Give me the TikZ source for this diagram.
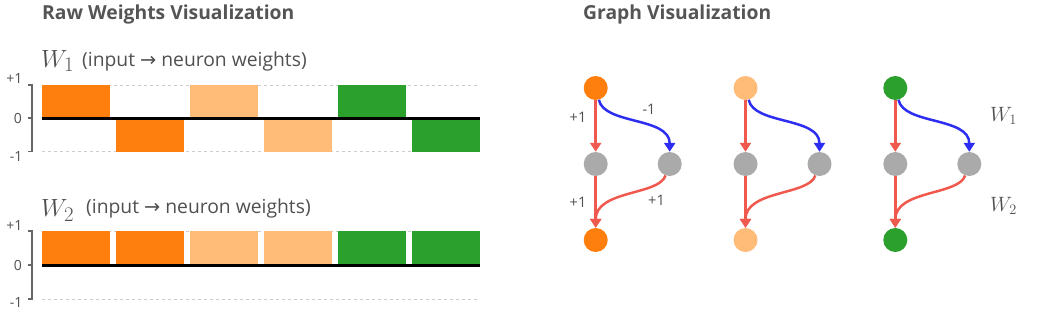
\documentclass[tikz,border=0pt]{standalone}
\usepackage{fontspec}
\setmainfont{Open Sans}
\newfontfamily\arrowfont{DejaVu Sans}
\usetikzlibrary{arrows.meta}
\definecolor{corange}{HTML}{FF7F0E}
\definecolor{clight}{HTML}{FFBB78}
\definecolor{cgreen}{HTML}{2CA02C}
\definecolor{cgray}{HTML}{AAAAAA}
\definecolor{cred}{HTML}{F05A4E}
\definecolor{cblue}{HTML}{2E2EF2}
\definecolor{ctitle}{HTML}{555555}
\definecolor{ctext}{HTML}{505050}
\definecolor{cgrid}{HTML}{CCCCCC}
\definecolor{caxis}{HTML}{666666}
\begin{document}
\begin{tikzpicture}[x=1pt,y=-1pt,
  title/.style={font=\fontsize{19.3}{21}\selectfont\bfseries, text=ctitle, anchor=base west, inner sep=0},
  sublabel/.style={font=\fontsize{19.3}{21}\selectfont, text=ctext, anchor=base west, inner sep=0},
  mathlabel/.style={font=\fontsize{24.88}{28}\selectfont, text=ctext, anchor=base west, inner sep=0},
  ticklabel/.style={font=\fontsize{14}{16}\selectfont, text=ctext, anchor=east, inner sep=0},
  gridline/.style={cgrid, line width=0.8pt, dash pattern=on 3pt off 3pt},
  zeroline/.style={black, line width=3pt},
  axisline/.style={caxis, line width=1.5pt},
  neuron/.style={circle, minimum size=24pt, inner sep=0, fill=#1},
  redarrow/.style={cred, line width=2.5pt, -{Triangle[width=11pt,length=9pt]}},
  bluearrow/.style={cblue, line width=2.5pt, -{Triangle[width=11pt,length=9pt]}},
  wlabel/.style={font=\fontsize{14.5}{16}\selectfont, text=ctext, inner sep=0},
  bigw/.style={font=\fontsize{20.74}{24}\selectfont, text=ctext, anchor=base west, inner sep=0}
]
\useasboundingbox (0,0) rectangle (1057,313);

% titles
\node[title] (t1) at (42,19.5) {Raw Weights Visualization};
\node[title] (t2) at (583,19.5) {Graph Visualization};

% ---------- chart W1 ----------
\node[mathlabel] (w1) at (41,67) {$W_1$};
\node[sublabel] (s1) at (82,66.5) {(input {\arrowfont→} neuron weights)};
\draw[gridline] (42,85) -- (480,85);
\draw[gridline] (42,151.5) -- (480,151.5);
\foreach \i/\c/\s in {0/corange/1,1/corange/-1,2/clight/1,3/clight/-1,4/cgreen/1,5/cgreen/-1}
  \fill[\c] ({42+74*\i},118) rectangle ({42+74*\i+67.5},{118-33.5*\s});
\draw[zeroline] (42,118) -- (480,118);
\draw[axisline] (28,85) -- (32,85) -- (32,151.5) -- (28,151.5);
\draw[axisline] (28,118) -- (32,118);
\node[ticklabel] (a1) at (22.5,79) {+1};
\node[ticklabel] (a2) at (22,118) {0};
\node[ticklabel] (a3) at (22.5,157) {-1};

% ---------- chart W2 ----------
\node[mathlabel] (w2) at (41,216.5) {$W_2$};
\node[sublabel] (s2) at (86,213.3) {(input {\arrowfont→} neuron weights)};
\draw[gridline] (42,231) -- (480,231);
\draw[gridline] (42,299) -- (480,299);
\foreach \i/\c in {0/corange,1/corange,2/clight,3/clight,4/cgreen,5/cgreen}
  \fill[\c] ({42+74*\i},265) rectangle ({42+74*\i+67.5},231);
\draw[zeroline] (42,265) -- (480,265);
\draw[axisline] (28,231) -- (32,231) -- (32,299) -- (28,299);
\draw[axisline] (28,265) -- (32,265);
\node[ticklabel] (b1) at (22.5,226) {+1};
\node[ticklabel] (b2) at (22,265) {0};
\node[ticklabel] (b3) at (22.5,303) {-1};

% ---------- graphs ----------
\foreach \k/\x/\col in {a/595.7/corange, b/745.5/clight, c/895.3/cgreen}{
  \node[neuron=\col] (t\k) at (\x,88) {};
  \node[neuron=cgray] (l\k) at (\x,164) {};
  \node[neuron=cgray] (r\k) at ({\x+74},164) {};
  \node[neuron=\col] (o\k) at (\x,240) {};
  \draw[redarrow] (t\k) -- (l\k);
  \draw[redarrow] (l\k) -- (o\k);
  \draw[bluearrow] (t\k.-75) .. controls +(5,25) and +(0,-35) .. (r\k.north);
  \draw[redarrow] (r\k.-110) .. controls +(-6,20) and +(0,-38) .. (o\k.north);
}
\node[wlabel] (la) at (578,117) {+1};
\node[wlabel] (lb) at (649,109) {-1};
\node[wlabel] (lc) at (578,202) {+1};
\node[wlabel] (ld) at (656.5,200) {+1};
\node[bigw] (W1) at (990,121.7) {$W_1$};
\node[bigw] (W2) at (990,211.7) {$W_2$};
\end{tikzpicture}
\end{document}
